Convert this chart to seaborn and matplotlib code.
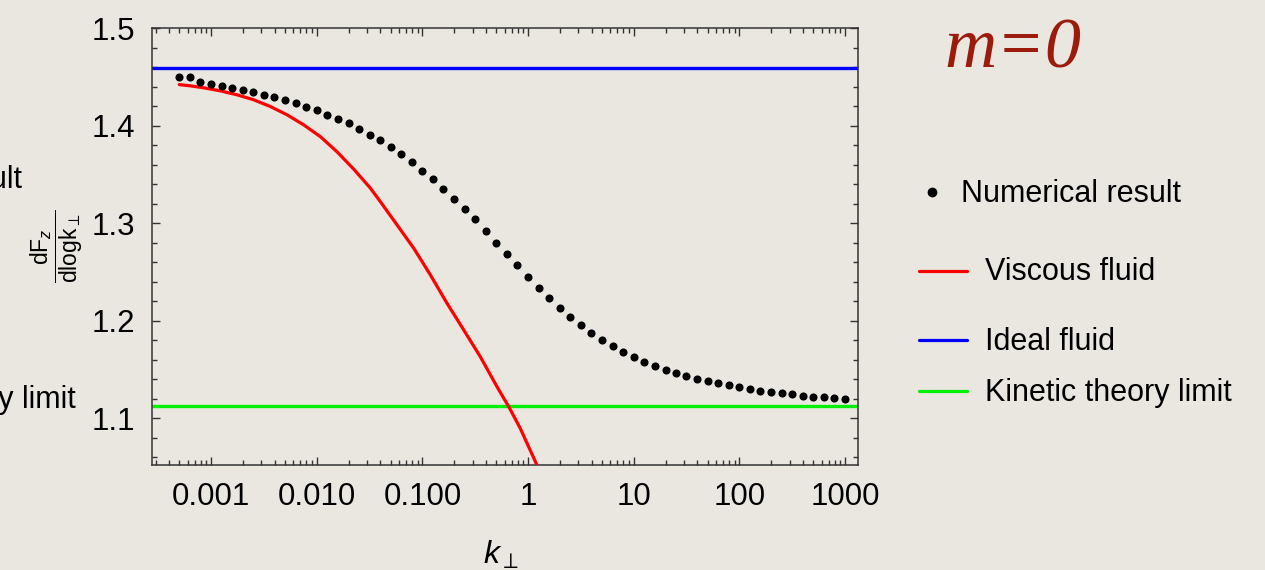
import seaborn as sns
import matplotlib.pyplot as plt
from matplotlib.lines import Line2D
from matplotlib.ticker import LogLocator, MultipleLocator, NullFormatter

# Numerical result (dots)
k_num = [5.01e-4, 6.31e-4, 7.94e-4,
         1.00e-3, 1.26e-3, 1.58e-3, 2.00e-3, 2.51e-3, 3.16e-3, 3.98e-3, 5.01e-3, 6.31e-3, 7.94e-3,
         0.0100, 0.0126, 0.0158, 0.0200, 0.0251, 0.0316, 0.0398, 0.0501, 0.0631, 0.0794,
         0.100, 0.126, 0.158, 0.200, 0.251, 0.316, 0.398, 0.501, 0.631, 0.794,
         1.00, 1.26, 1.58, 2.00, 2.51, 3.16, 3.98, 5.01, 6.31, 7.94,
         10.0, 12.6, 15.8, 20.0, 25.1, 31.6, 39.8, 50.1, 63.1, 79.4,
         100, 126, 158, 200, 251, 316, 398, 501, 631, 794,
         1000]
numerical = [1.4500, 1.4493, 1.4449, 1.4428, 1.4407, 1.4386, 1.4366, 1.4346, 1.4318, 1.4291,
             1.4264, 1.4233, 1.4195, 1.4158, 1.4113, 1.4072, 1.4021, 1.3969, 1.3908, 1.3847,
             1.3778, 1.3706, 1.3624, 1.3538, 1.3447, 1.3351, 1.3248, 1.3146, 1.3040, 1.2920,
             1.2800, 1.2684, 1.2568, 1.2451, 1.2339, 1.2232, 1.2134, 1.2038, 1.1953, 1.1874,
             1.1802, 1.1737, 1.1679, 1.1627, 1.1576, 1.1539, 1.1498, 1.1463, 1.1433, 1.1405,
             1.1382, 1.1358, 1.1338, 1.1317, 1.1300, 1.1283, 1.1268, 1.1255, 1.1245, 1.1230,
             1.1220, 1.1214, 1.1204, 1.1197]

# Viscous fluid (red curve)
k_visc = [5.0e-4, 6.37e-4, 8.51e-4, 1.22e-3, 1.76e-3, 2.53e-3, 3.64e-3, 5.24e-3, 7.52e-3,
          0.0108, 0.0156, 0.0223, 0.0321, 0.0400, 0.0575, 0.0827, 0.119, 0.171, 0.246,
          0.353, 0.508, 0.655, 0.844, 1.213]
viscous = [1.4420, 1.4407, 1.4387, 1.4356, 1.4315, 1.4264, 1.4195, 1.4110, 1.4007,
           1.3887, 1.3730, 1.3555, 1.3360, 1.3220, 1.2982, 1.2743, 1.2469, 1.2178, 1.1905,
           1.1631, 1.1323, 1.1120, 1.0896, 1.0520]

ideal_fluid = 1.4592
kinetic_limit = 1.1125

x_ticks = [1e-3, 1e-2, 1e-1, 1, 10, 100, 1000]
x_labels = ["0.001", "0.010", "0.100", "1", "10", "100", "1000"]
y_ticks = [1.1, 1.2, 1.3, 1.4, 1.5]
y_labels = ["1.1", "1.2", "1.3", "1.4", "1.5"]

legend_labels = ["Numerical result", "Viscous fluid", "Ideal fluid", "Kinetic theory limit"]

bg = "#e9e7e0"
red, blue, green = "#ff0000", "#0000ff", "#00f000"

sns.set_style("ticks")
plt.rcParams["font.family"] = ["Liberation Sans", "DejaVu Sans"]
plt.rcParams["mathtext.fontset"] = "custom"
plt.rcParams["mathtext.rm"] = "Liberation Sans"
plt.rcParams["mathtext.it"] = "Liberation Sans:italic"
plt.rcParams["text.color"] = "black"
plt.rcParams["axes.labelcolor"] = "black"

W, H = 1265, 570
fig = plt.figure(figsize=(W / 100, H / 100), dpi=100, facecolor=bg)
ax = fig.add_axes([152 / W, 1 - 465 / H, (858 - 152) / W, (465 - 28) / H])
ax.set_facecolor("none")

ax.axhline(ideal_fluid, color=blue, lw=2.4, zorder=2)
ax.axhline(kinetic_limit, color=green, lw=2.4, zorder=2)
sns.lineplot(x=k_visc, y=viscous, ax=ax, color=red, lw=2.3, sort=False,
             estimator=None, zorder=3)
sns.scatterplot(x=k_num, y=numerical, ax=ax, color="black", s=34,
                linewidth=0, zorder=4)

ax.set_xscale("log")
ax.set_xlim(2.76e-4, 1327)
ax.set_ylim(1.052, 1.5)
ax.set_xticks(x_ticks, x_labels)
ax.set_yticks(y_ticks, y_labels)
ax.xaxis.set_minor_locator(LogLocator(base=10, subs=range(2, 10), numticks=30))
ax.xaxis.set_minor_formatter(NullFormatter())
ax.yaxis.set_minor_locator(MultipleLocator(0.02))

for s in ax.spines.values():
    s.set_visible(True)
    s.set_color("#333333")
    s.set_linewidth(1.1)
ax.tick_params(which="both", direction="in", top=True, right=True,
               color="#333333", width=1.0, labelsize=22.5, labelcolor="black")
ax.tick_params(which="major", length=6, pad=12)
ax.tick_params(which="minor", length=3.5)

ax.set_ylabel(r"$\dfrac{\mathregular{dF}_{z}}{\mathregular{dlogk}_{\perp}}$", fontsize=16.5)
ax.yaxis.set_label_coords(-0.095, 0.5)
ax.set_xlabel(r"$k_{\perp}$", fontsize=23)
ax.xaxis.set_label_coords(0.495, -0.17)
ax.xaxis.label.set_va("top")

# title on the right
fig.text(1013 / W, 1 - 67 / H, "m=0", fontsize=52, family="Liberation Serif",
         style="italic", color="#9b1c0c", ha="center", va="baseline")

# legend drawn by hand (uneven spacing in the reference)
fs = 22
fig.add_artist(Line2D([932 / W], [1 - 192 / H], marker="o", color="black",
                      markersize=6, linestyle="none"))
fig.text(961 / W, 1 - 202 / H, legend_labels[0], fontsize=fs, va="baseline")
for c, yc, yb, lab in [(red, 271, 280, legend_labels[1]),
                       (blue, 340, 350, legend_labels[2]),
                       (green, 391, 401, legend_labels[3])]:
    fig.add_artist(Line2D([919 / W, 967 / W], [1 - yc / H, 1 - yc / H], color=c, lw=2.3))
    fig.text(985 / W, 1 - yb / H, lab, fontsize=fs, va="baseline")

# cut-off remnants of a legend at the left edge (as in the reference)
fig.text(22 / W, 1 - 188 / H, legend_labels[0], fontsize=fs, ha="right", va="baseline")
fig.text(76 / W, 1 - 408 / H, legend_labels[3], fontsize=fs, ha="right", va="baseline")

fig.savefig("out.png", dpi=100, facecolor=bg)
